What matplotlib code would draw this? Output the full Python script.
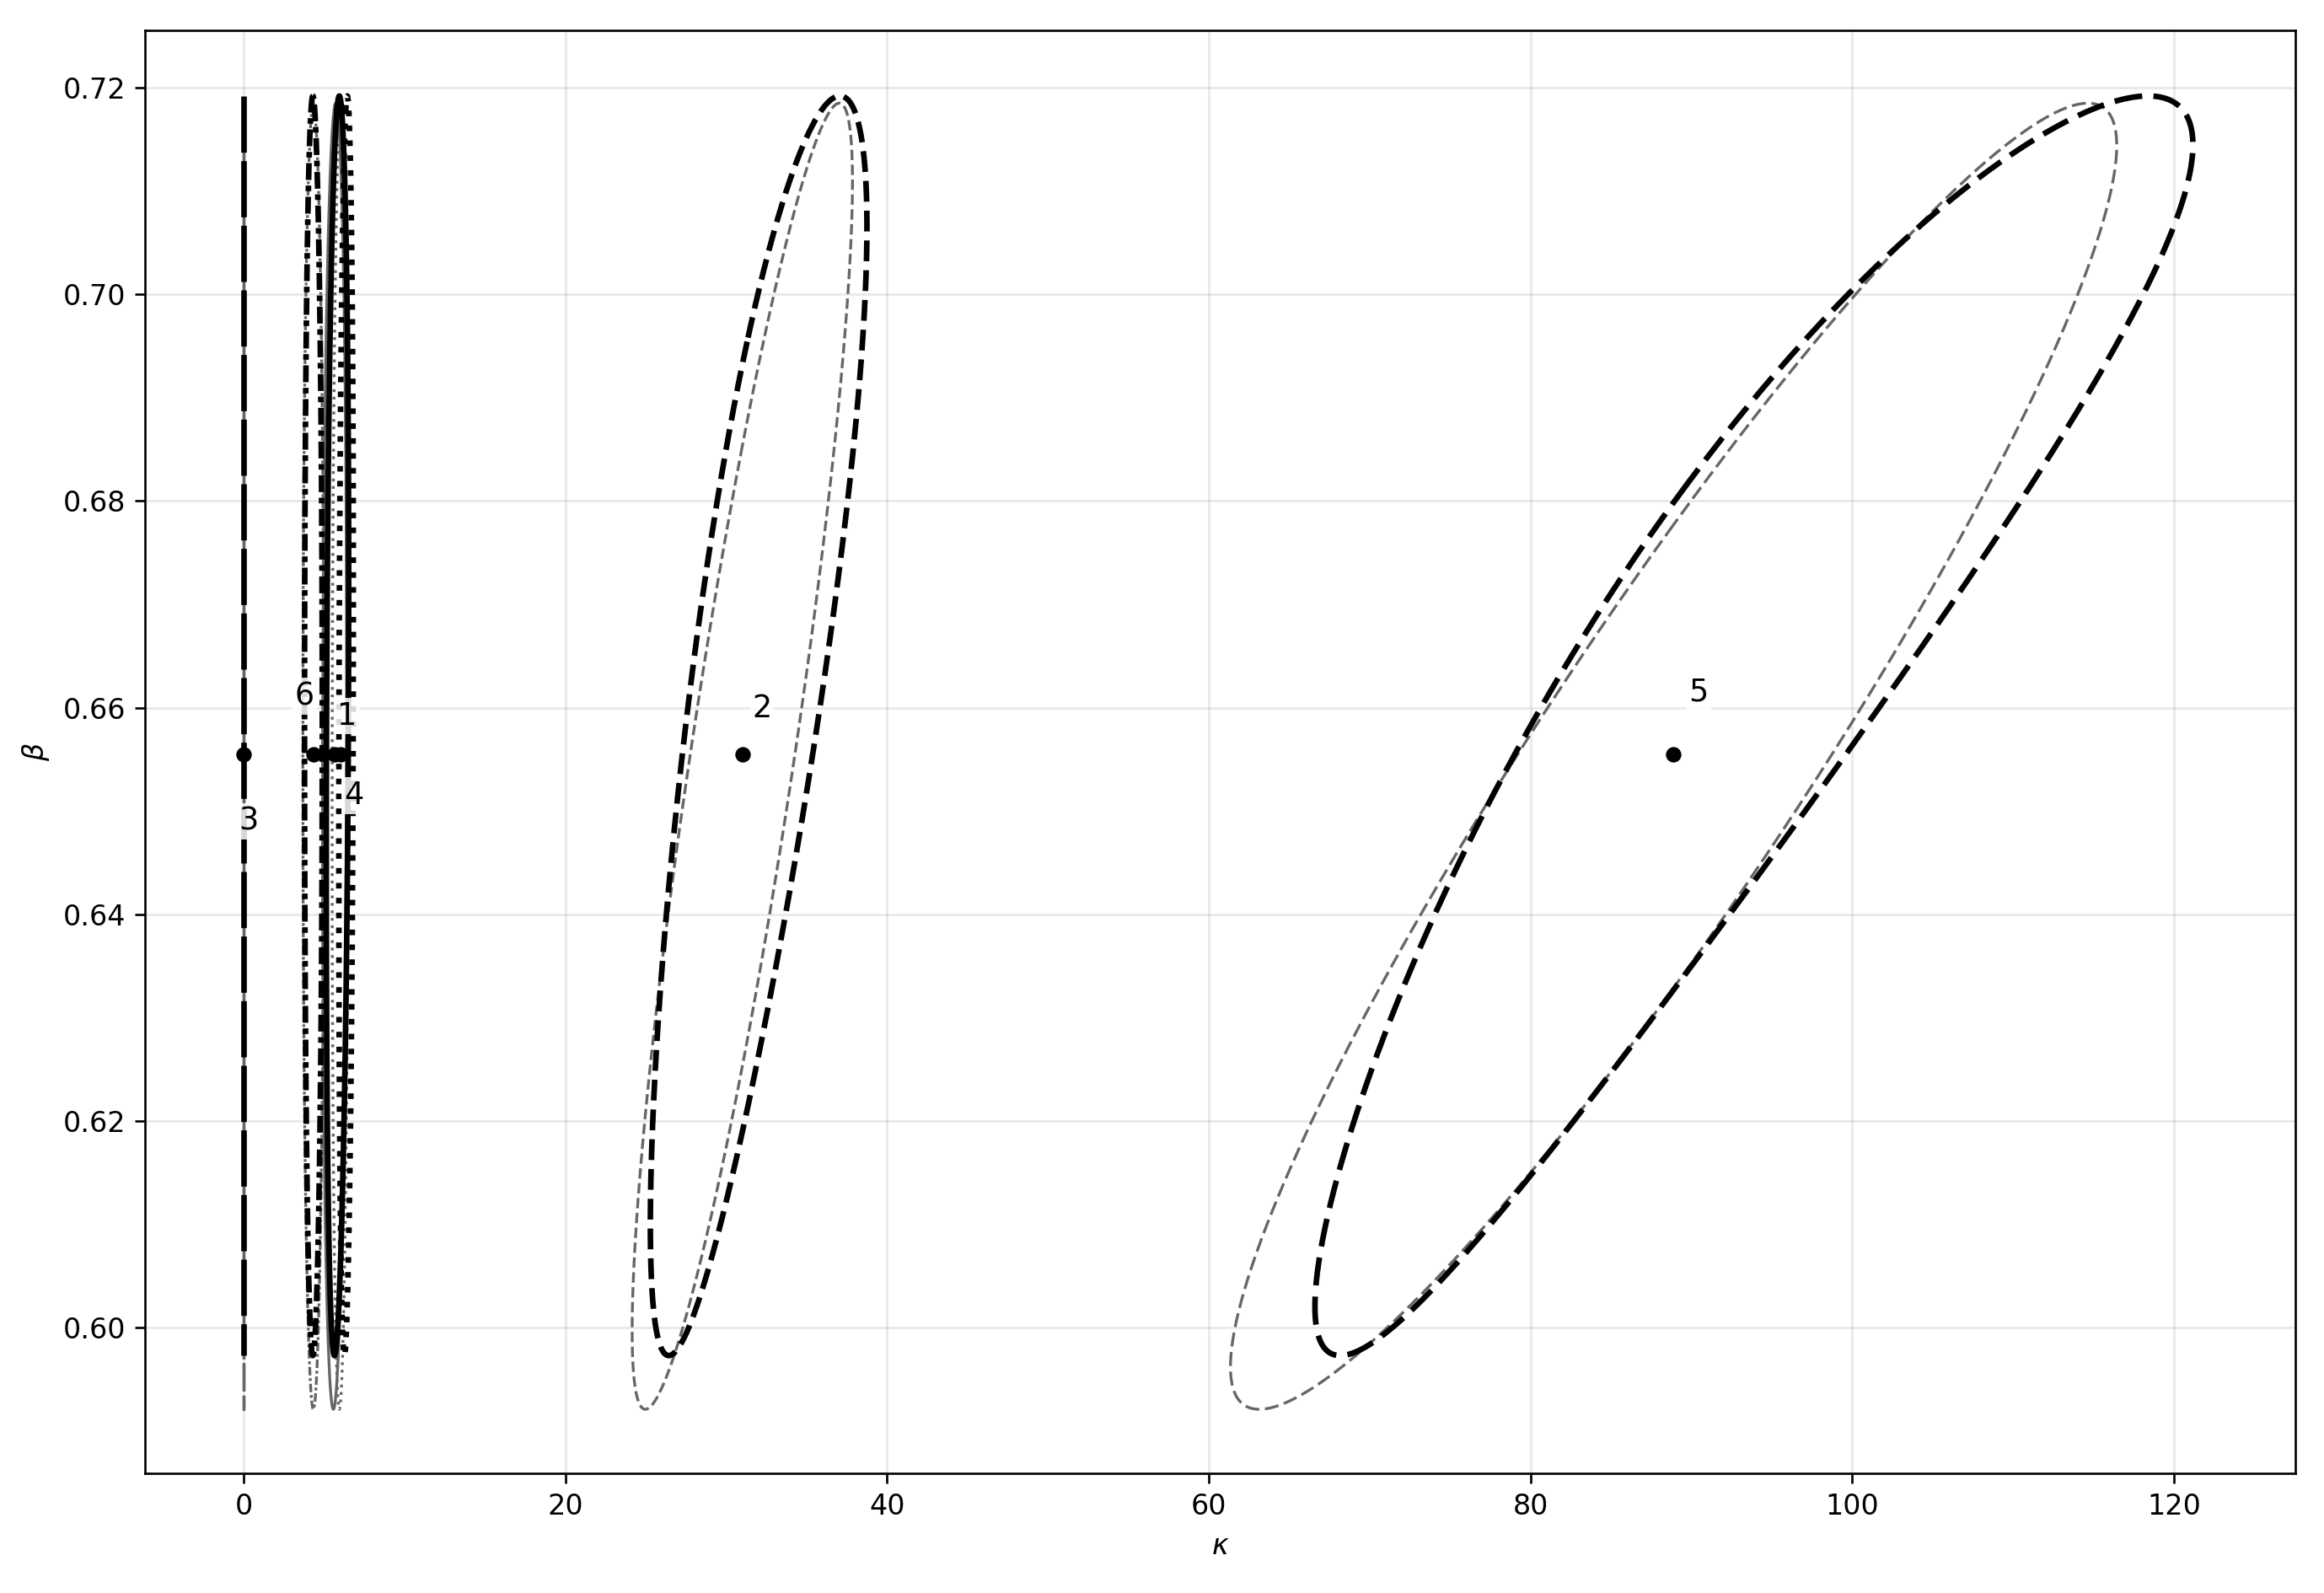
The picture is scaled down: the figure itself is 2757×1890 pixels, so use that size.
import numpy as np
import matplotlib.pyplot as plt

# point estimates for the six groups
labels = ['1', '2', '3', '4', '5', '6']
kappa_hat = [5.65, 31.0, 0.0, 6.0, 88.9, 4.33]
beta_hat = 0.6555

# grey ellipses (normal approximation): kappa half-width and correlation
wald_sk = [0.75, 6.85, 0.0, 0.5, 27.55, 0.65]
wald_rho = [0.1, 0.88, 0.0, 0.1, 0.935, 0.0]
wald_cb = 0.6553
wald_sb = 0.0632

# black contours, elliptic in (log kappa, beta)
lik_ck = [5.79, 31.3, 0.0, 6.35, 89.84, 4.3]
lik_sl = [0.12, 0.2135, 0.0, 0.071, 0.2993, 0.128]
lik_rho = [0.22, 0.7925, 0.0, 0.2, 0.922, 0.0]
lik_cb = 0.65825
lik_sb = 0.06095

label_k = [6.43, 32.2, 0.31, 6.87, 90.45, 3.77]
label_b = [0.6592, 0.6599, 0.6490, 0.6515, 0.6615, 0.6611]

styles = ['-', '--', (0, (10, 1.5)), ':', (0, (5, 2)), (0, (3, 1, 1, 1))]


def unit_ellipse(rho, n=600):
    t = np.linspace(0.5*np.pi, 2.5*np.pi, n)
    u = np.cos(t)
    v = rho*np.cos(t) + np.sqrt(1 - rho**2)*np.sin(t)
    return u, v


fig = plt.figure(figsize=(2757/240, 1890/240), dpi=240)
ax = fig.add_axes([0.0625, 0.0751, 0.925, 0.906])

for i in range(len(labels)):
    u, v = unit_ellipse(wald_rho[i])
    x = kappa_hat[i] + wald_sk[i]*u
    y = wald_cb + wald_sb*v
    ax.plot(x, y, color='0.4', lw=1, linestyle=styles[i], zorder=2)

for i in range(len(labels)):
    u, v = unit_ellipse(lik_rho[i])
    x = lik_ck[i]*np.exp(lik_sl[i]*u)
    y = lik_cb + lik_sb*v
    if lik_ck[i] == 0:
        # contour collapsed onto kappa = 0, draw a single pass
        x, y = x[:len(x)//2], y[:len(y)//2]
    ax.plot(x, y, color='black', lw=2, linestyle=styles[i], zorder=3)

ax.plot(kappa_hat, [beta_hat]*len(kappa_hat), 'o', color='black', ms=4.5, zorder=5)

for i in range(len(labels)):
    ax.text(label_k[i], label_b[i], labels[i], fontsize=11, ha='center', va='center',
            zorder=6, bbox=dict(facecolor='white', edgecolor='none', alpha=0.85, pad=1))

ax.set_xlim(-6.12, 127.53)
ax.set_ylim(0.5859, 0.72557)
ax.set_xlabel(r'$\kappa$')
ax.set_ylabel(r'$\beta$')
ax.grid(True, alpha=0.3)

fig.savefig('out.png', dpi=240)
